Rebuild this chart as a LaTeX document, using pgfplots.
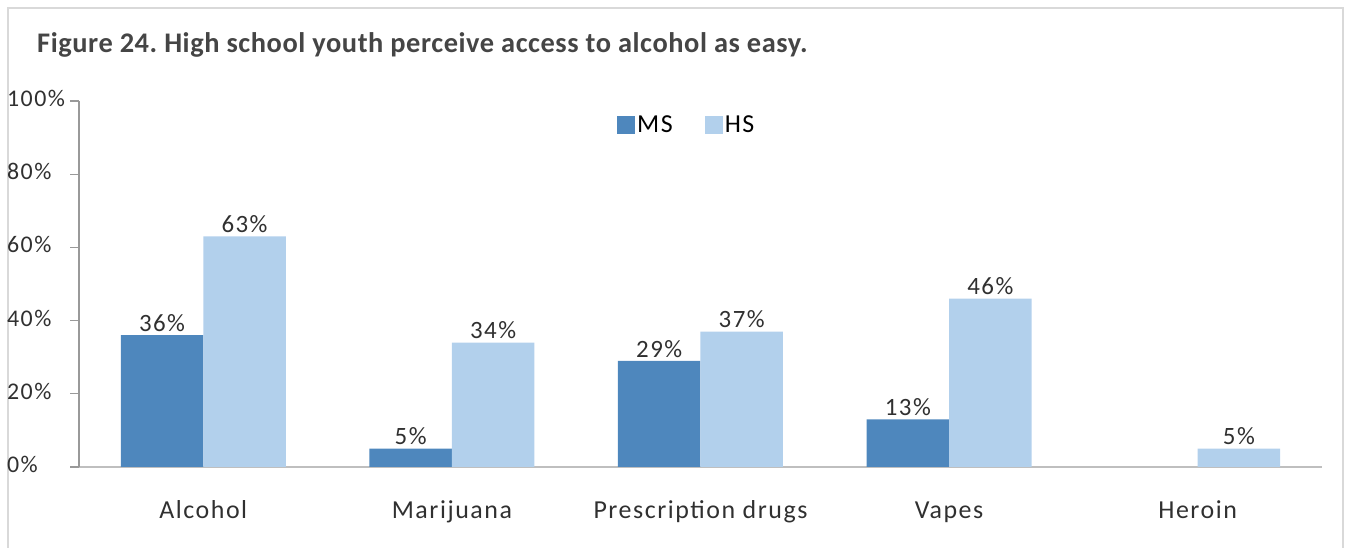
\documentclass[border=0pt]{standalone}
\usepackage{pgfplots}
\pgfplotsset{compat=1.18}
\usepackage{fontspec}
\setmainfont{Carlito}
\newfontfamily\labfont[LetterSpace=6]{Carlito}
\newfontfamily\titfont[LetterSpace=2]{Carlito}
\frenchspacing
\definecolor{msblue}{HTML}{4E87BD}
\definecolor{hsblue}{HTML}{B2D0EC}
\definecolor{txt}{HTML}{303030}
\definecolor{axgray}{HTML}{BFBFBF}
\definecolor{framegray}{HTML}{D9D9D9}
\begin{document}
\begin{tikzpicture}
\useasboundingbox (0,0) rectangle (1346bp,548bp);
\draw[framegray, line width=2bp] (8bp,0) -- (8bp,540bp) -- (1343bp,540bp) -- (1343bp,0);
\node[anchor=base west, inner sep=0, text=txt!90!white, font=\titfont\fontsize{28.5}{32}\selectfont\bfseries] at (37bp,495bp) {Figure 24. High school youth perceive access to alcohol as easy.};
\begin{axis}[
  at={(79bp,81bp)}, anchor=south west,
  scale only axis, width=1243bp, height=366bp,
  ybar=0pt, bar width=82.5bp,
  xmin=-0.5, xmax=4.5, ymin=0, ymax=100,
  axis x line=bottom, axis y line=left,
  axis line style={-},
  x axis line style={draw=axgray, line width=2bp},
  y axis line style={draw=axgray!80!black, line width=1.2bp},
  xtick={0,1,2,3,4},
  xticklabels={Alcohol,Marijuana,Prescription drugs,Vapes,Heroin},
  xtick style={draw=none},
  xticklabel style={font=\labfont\fontsize{26}{30}\selectfont, text=txt, anchor=base, yshift=-42bp, inner sep=0},
  ytick={0,20,40,60,80,100},
  yticklabels={0\%,20\%,40\%,60\%,80\%,100\%},
  ytick style={draw=axgray!80!black, line width=1.2bp},
  tick align=outside, major tick length=9bp,
  yticklabel style={font=\labfont\fontsize{24}{28}\selectfont, text=txt, anchor=west, inner sep=0, xshift=-63bp},
  typeset ticklabels with strut,
  nodes near coords={\pgfmathprintnumber[assume math mode=true]{\pgfplotspointmeta}\%},
  every node near coord/.append style={font=\labfont\fontsize{25}{28}\selectfont, text=txt},
  legend style={at={(0.489,0.934)}, anchor=center, draw=none, fill=none,
    legend columns=2, font=\labfont\fontsize{26}{30}\selectfont,
    /tikz/every even column/.append style={column sep=30bp}},
  legend image code/.code={\fill[#1] (0bp,-9bp) rectangle (18bp,9bp);},
]
\addplot[fill=msblue, draw=none] coordinates {(0,36) (1,5) (2,29) (3,13)};
\addplot[fill=hsblue, draw=none] coordinates {(0,63) (1,34) (2,37) (3,46) (4,5)};
\legend{MS,HS}
\end{axis}
\end{tikzpicture}
\end{document}
